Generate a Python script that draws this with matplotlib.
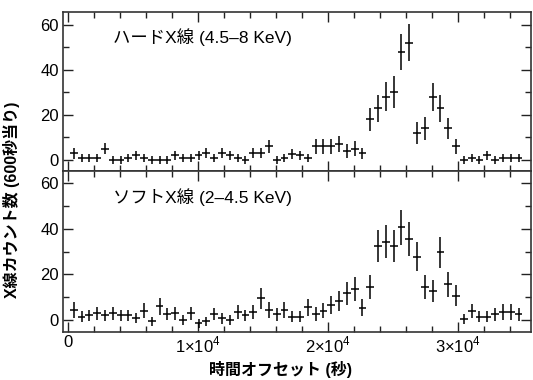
import numpy as np
import matplotlib
matplotlib.use("Agg")
import matplotlib.pyplot as plt
from matplotlib.ticker import MultipleLocator, FixedLocator

plt.rcParams["font.family"] = ["Liberation Sans", "Noto Sans CJK JP", "DejaVu Sans"]
plt.rcParams["mathtext.fontset"] = "custom"
plt.rcParams["mathtext.rm"] = "Liberation Sans"

# 600 s bins
bin_width = 600
t0 = 450
n_bins = 58

# hard band (4.5-8 keV) counts per bin and errors
hard = [3, 1, 1, 1, 5, 0, 0, 1, 2, 1,
        0, 0, 0, 2, 1, 1, 2, 3, 1, 3,
        2, 1, 0, 3, 3, 6, 0, 1, 2.5, 2,
        1, 6, 6, 6, 7, 4, 5, 3, 18, 23,
        28, 30, 48, 52, 12, 14, 28, 23, 14, 6,
        0, 1, 0, 2, 0, 1, 1, 1]
hard_err = [2.5, 1.8, 1.8, 1.8, 2.5, 1.6, 1.6, 1.8, 2.0, 1.8,
            1.6, 1.6, 1.6, 2.0, 1.8, 1.8, 2.0, 2.2, 1.8, 2.2,
            2.0, 1.8, 1.6, 2.2, 2.2, 3.0, 1.6, 1.8, 2.2, 2.0,
            1.8, 3.3, 3.3, 3.3, 3.5, 3.0, 3.2, 2.5, 5.0, 6.0,
            6.4, 7.0, 8.0, 8.2, 4.8, 5.0, 6.3, 6.0, 4.8, 3.3,
            1.6, 1.8, 1.6, 2.0, 1.6, 1.8, 1.8, 1.8]

# soft band (2-4.5 keV)
soft = [4.5, 1.5, 2, 3, 2, 3, 2, 2, 1, 4,
        -0.5, 6, 2.5, 3, 0, 3, -1.5, -0.5, 2.6, 0.7,
        0, 3.6, 2, 3.6, 9.5, 4.4, 2.5, 4.4, 1.5, 1.5,
        5.5, 2.6, 4, 6.6, 8.3, 11.7, 13.6, 5.4, 14.6, 32.4,
        34.3, 32.4, 40.6, 35.5, 27.7, 14.6, 12.7, 29.6, 15.6, 10.7,
        0.4, 3.9, 1.5, 1.5, 2.5, 3.6, 3.6, 2.5]
soft_err = [3.5, 2.3, 2.5, 2.8, 2.5, 2.8, 2.5, 2.5, 2.2, 3.3,
            2.0, 3.8, 2.7, 2.8, 2.2, 2.8, 2.0, 2.0, 2.7, 2.3,
            2.2, 3.2, 2.5, 3.2, 4.5, 3.5, 2.8, 3.5, 2.5, 2.5,
            3.8, 3.0, 3.3, 4.0, 4.3, 5.0, 5.2, 3.8, 5.2, 7.0,
            7.3, 7.0, 7.8, 7.3, 6.3, 5.3, 5.0, 6.7, 5.3, 4.6,
            2.2, 3.2, 2.5, 2.5, 2.8, 3.4, 3.4, 2.8]

xticks = [0, 1e4, 2e4, 3e4]
xticklabels = ["0", r"$1{\times}10^4$", r"$2{\times}10^4$", r"$3{\times}10^4$"]

t = t0 + bin_width * np.arange(n_bins)

fig = plt.figure(figsize=(5.33, 3.80), dpi=100)
ax1 = fig.add_axes([0.118, 0.550, 0.878, 0.418])
ax2 = fig.add_axes([0.118, 0.126, 0.878, 0.424], sharex=ax1)

panels = [(ax1, hard, hard_err, "ハードX線 (4.5–8 KeV)", (-4.9, 65.5)),
          (ax2, soft, soft_err, "ソフトX線 (2–4.5 KeV)", (-5.3, 65.3))]

for ax, y, yerr, label, ylim in panels:
    ax.errorbar(t, y, xerr=bin_width / 2, yerr=yerr, fmt="none",
                ecolor="black", elinewidth=1.1, capsize=0)
    ax.set_ylim(*ylim)
    ax.set_xlim(-385, 35600)
    ax.yaxis.set_major_locator(FixedLocator([0, 20, 40, 60]))
    ax.yaxis.set_minor_locator(MultipleLocator(10))
    ax.xaxis.set_major_locator(FixedLocator(xticks))
    ax.xaxis.set_minor_locator(MultipleLocator(2000))
    ax.tick_params(which="both", direction="in", top=True, right=True,
                   color="#222222", width=1.0)
    ax.tick_params(which="major", length=7, labelsize=12, pad=3)
    ax.tick_params(which="minor", length=4)
    for s in ax.spines.values():
        s.set_linewidth(1.2)
        s.set_color("#333333")
    ax.text(0.107, 0.84, label, transform=ax.transAxes, fontsize=12.5,
            ha="left", va="center")

ax1.tick_params(labelbottom=False)
ax2.set_xticklabels(xticklabels)
ax2.tick_params(axis="x", which="major", pad=2)

fig.text(0.527, 0.006, "時間オフセット (秒)", ha="center", va="bottom",
         fontsize=11.5, fontweight="bold")
fig.text(0.022, 0.474, "X線カウント数 (600秒当り)", ha="center", va="center",
         rotation=90, fontsize=11.5, fontweight="bold")

fig.savefig("out.png", dpi=100)
